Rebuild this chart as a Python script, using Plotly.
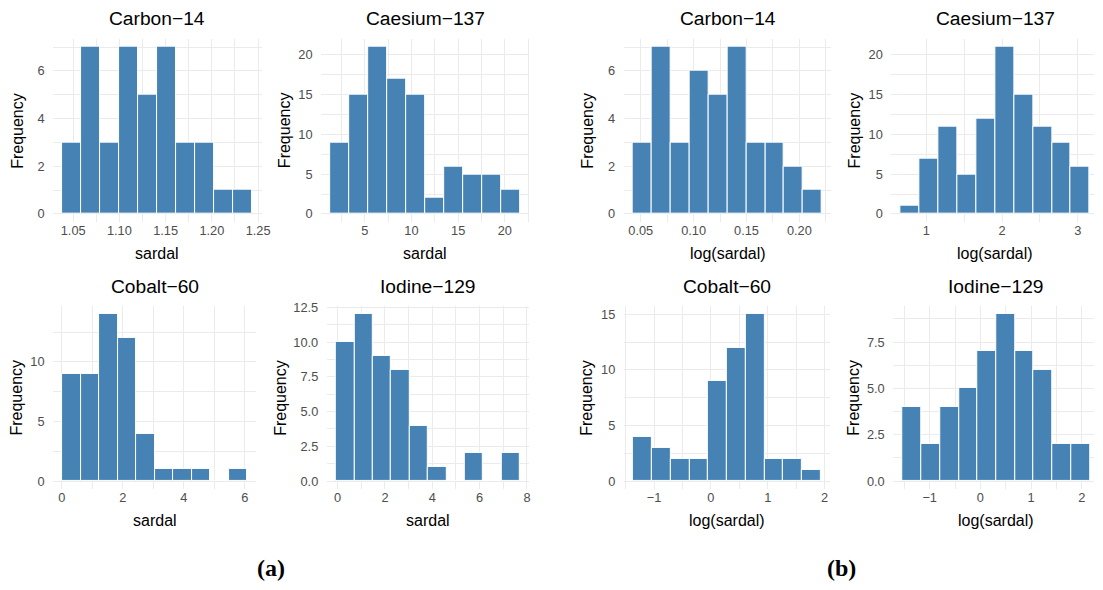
import plotly.graph_objects as go

W, H = 1103, 590

# ---- data ----
panel_titles = ["Carbon−14", "Caesium−137", "Carbon−14", "Caesium−137",
                "Cobalt−60", "Iodine−129", "Cobalt−60", "Iodine−129"]
x_titles = ["sardal", "sardal", "log(sardal)", "log(sardal)",
            "sardal", "sardal", "log(sardal)", "log(sardal)"]

c14_raw_counts = [3, 7, 3, 7, 5, 7, 3, 3, 1, 1]
cs137_raw_counts = [9, 15, 21, 17, 15, 2, 6, 5, 5, 3]
c14_log_counts = [3, 7, 3, 6, 5, 7, 3, 3, 2, 1]
cs137_log_counts = [1, 7, 11, 5, 12, 21, 15, 11, 9, 6]
co60_raw_counts = [9, 9, 14, 12, 4, 1, 1, 1, 0, 1]
i129_raw_counts = [10, 12, 9, 8, 4, 1, 0, 2, 0, 2]
co60_log_counts = [4, 3, 2, 2, 9, 12, 15, 2, 2, 1]
i129_log_counts = [4, 2, 4, 5, 7, 9, 7, 6, 2, 2]

all_counts = [c14_raw_counts, cs137_raw_counts, c14_log_counts, cs137_log_counts,
              co60_raw_counts, i129_raw_counts, co60_log_counts, i129_log_counts]

bin_starts = [1.0385, 1.35, 0.0428, 0.663, 0.02, -0.07, -1.366, -1.534]
bin_widths = [0.0205, 2.025, 0.01785, 0.2495, 0.606, 0.777, 0.33, 0.3693]

# ---- layout geometry (pixels) ----
panel_left = [53.5, 323.8, 628.8, 898.7, 53.5, 329.5, 629.0, 900.6]
panel_right = [263.7, 533.6, 838.2, 1108.2, 258.5, 533.4, 837.1, 1108.2]
row_top = [33.0, 303.0]
row_bot = [218.5, 488.4]
freq_x = [17.5, 287, 592, 862, 17, 282.5, 592, 861]

x_tick0 = [1.05, 5, 0.05, 1, 0, 0, -1, -1]
x_dtick = [0.05, 5, 0.05, 1, 2, 2, 1, 1]
x_fmt = [".2f", "d", ".2f", "d", "d", "d", "d", "d"]
y_dtick = [2, 5, 2, 5, 5, 2.5, 5, 2.5]
y_fmt = ["d", "d", "d", "d", "d", ".1f", "d", ".1f"]

FONT = "Liberation Sans"
GRID = "#EBEBEB"
BAR = "#4682B4"

fig = go.Figure()
annotations = []
layout = {}

for i in range(8):
    counts = all_counts[i]
    w = bin_widths[i]
    centers = [bin_starts[i] + w * (k + 0.5) for k in range(len(counts))]
    lo = bin_starts[i]
    hi = bin_starts[i] + w * len(counts)
    span = hi - lo
    xr0, xr1 = lo - 0.05 * span, hi + 0.05 * span
    pl, pr = panel_left[i], panel_right[i]
    # clip to the page width
    if pr > W:
        xr1 = xr0 + (W - pl) / (pr - pl) * (xr1 - xr0)
        pr_clip = W
    else:
        pr_clip = pr
    row = 0 if i < 4 else 1
    yt, yb = row_top[row], row_bot[row]
    ymax = max(counts)
    sfx = "" if i == 0 else str(i + 1)

    fig.add_trace(go.Bar(
        x=centers, y=counts, width=w,
        marker=dict(color=BAR, line=dict(color="white", width=1)),
        xaxis="x" + sfx, yaxis="y" + sfx, showlegend=False, hoverinfo="x+y",
    ))

    layout["xaxis" + sfx] = dict(
        domain=[pl / W, pr_clip / W], anchor="y" + sfx,
        range=[xr0, xr1], tickmode="linear", tick0=x_tick0[i], dtick=x_dtick[i],
        tickformat=x_fmt[i], showgrid=True, gridcolor=GRID, gridwidth=1.3,
        zeroline=False, showline=False, ticks="",
        ticklabelstandoff=-1,
        tickfont=dict(family=FONT, size=12.8, color="#4D4D4D"),
        minor=dict(tickmode="linear", tick0=x_tick0[i], dtick=x_dtick[i] / 2,
                   showgrid=True, gridcolor=GRID, gridwidth=0.8),
        fixedrange=True,
    )
    layout["yaxis" + sfx] = dict(
        domain=[1 - yb / H, 1 - yt / H], anchor="x" + sfx,
        range=[-0.05 * ymax, 1.05 * ymax], tickmode="linear", tick0=0,
        dtick=y_dtick[i], tickformat=y_fmt[i], showgrid=True, gridcolor=GRID,
        gridwidth=1.3, zeroline=False, showline=False, ticks="outside",
        ticklen=5, tickcolor="rgba(0,0,0,0)",
        tickfont=dict(family=FONT, size=12.8, color="#4D4D4D"),
        minor=dict(tickmode="linear", tick0=0, dtick=y_dtick[i] / 2,
                   showgrid=True, gridcolor=GRID, gridwidth=0.8),
        fixedrange=True,
    )

    cx = (pl + pr) / 2
    # panel title
    annotations.append(dict(
        text=panel_titles[i], x=cx / W, y=1 - (13 if row == 0 else 283) / H,
        xref="paper", yref="paper", xanchor="center", yanchor="middle",
        showarrow=False, font=dict(family=FONT, size=19.2, color="black")))
    # x-axis title
    annotations.append(dict(
        text=x_titles[i], x=cx / W, y=1 - (250 if row == 0 else 520) / H,
        xref="paper", yref="paper", xanchor="center", yanchor="middle",
        showarrow=False, font=dict(family=FONT, size=16, color="black")))
    # y-axis title
    annotations.append(dict(
        text="Frequency", x=freq_x[i] / W, y=1 - ((yt + yb) / 2) / H,
        xref="paper", yref="paper", xanchor="center", yanchor="middle",
        textangle=-90, showarrow=False,
        font=dict(family=FONT, size=16, color="black")))

for lab, xc in (("(a)", 273), ("(b)", 848)):
    annotations.append(dict(
        text="<b>" + lab + "</b>", x=xc / W, y=1 - 568 / H,
        xref="paper", yref="paper", xanchor="center", yanchor="middle",
        showarrow=False, font=dict(family="Liberation Serif", size=24, color="black")))

fig.update_layout(
    width=W, height=H, margin=dict(l=0, r=0, t=0, b=0),
    paper_bgcolor="white", plot_bgcolor="white",
    bargap=0, annotations=annotations, **layout,
)

fig.write_html("out.html")
